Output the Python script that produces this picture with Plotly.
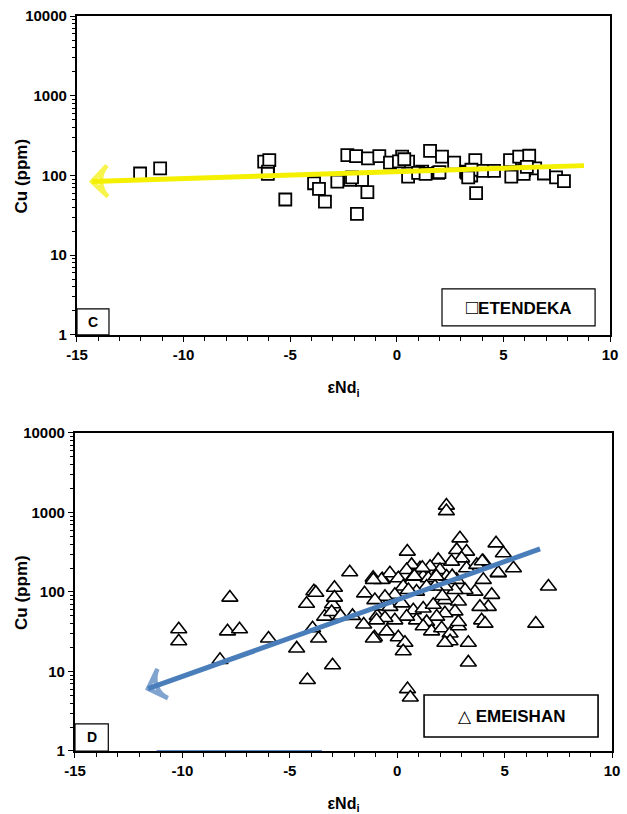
import plotly.graph_objects as go
from plotly.subplots import make_subplots

# ---- Etendeka (panel C): eNd_i vs Cu (ppm) ----
end_et = [-12.04, -11.1, -6.22, -5.98, -6.04, -5.23, -3.88, -3.65, -3.37, -2.79,
          -2.32, -1.91, -2.19, -1.63, -1.87, -1.38, -1.35, -0.82, -0.32, 0.25,
          0.53, 0.53, 1.19, 1.56, 1.94, 2.12, 2.69, 3.25, 3.49, 3.68,
          3.72, 4.05, 4.56, 5.37, 5.31, 5.74, 6.21, 5.97, 6.49, 6.9,
          7.47, 7.84, 0.1, 0.35, 1.0, 1.35, 2.0, 3.3, 3.5, 3.35,
          5.95, 6.1, -6.05, -2.1]
cu_et = [106, 123, 149, 156, 112, 50, 80, 68, 47, 84,
         180, 175, 88, 88, 33, 62, 164, 175, 145, 172,
         149, 97, 112, 204, 108, 172, 145, 112, 100, 156,
         60, 114, 114, 97, 156, 172, 177, 117, 123, 106,
         95, 85, 150, 160, 108, 105, 110, 108, 118, 95,
         105, 128, 105, 95]

# ---- Emeishan (panel D): eNd_i vs Cu (ppm) ----
end_em = [-10.17, -10.17, -7.79, -7.9, -7.34, -8.25, -5.99, -4.68, -4.22, -4.18,
          -3.88, -3.79, -3.94, -3.66, -3.38, -3.01, -2.92, -3.01, -2.92, -3.05,
          -2.64, -2.21, -2.08, -1.52, -1.56, -1.12, -1.06, -0.93, -0.69, -0.69,
          0.47, 2.92, 4.6, 4.94, 5.41, 4.71, 4.01, 4.01, 4.4, 4.24,
          3.85, 3.93, 4.09, 3.31, 3.31, 2.77, 3.23, 3.0, 2.53, 1.91,
          1.53, 1.06, 0.67, 0.44, -0.34, -0.73, -1.11, 0.05, 0.28, 0.75,
          1.21, 1.45, 1.99, 2.3, 2.77, 3.23, 3.7, 3.62, 3.16, 2.69,
          2.22, 1.76, 1.37, 0.9, 0.52, -0.11, -0.57, -1.04, -0.34, 0.21,
          0.75, 1.21, 1.68, 2.22, 2.85, 2.69, 2.22, 1.84, 1.37, 0.9,
          0.44, -0.11, -0.57, -0.96, -1.11, -0.49, 0.05, 0.36, 0.28, 1.21,
          1.6, 2.07, 2.46, 2.85, 2.46, 2.22, 2.85, 0.48, 0.61, 2.29,
          2.29, 7.04, 6.45, 4.7, 3.96, 1.82, 1.17, 0.8, 2.56, 2.1]
cu_em = [34, 24, 85, 32, 34, 14, 26, 19.5, 71, 7.8,
         102, 98, 35, 26, 49, 12, 113, 70, 85, 56,
         50, 177, 50, 96, 39, 151, 27, 50, 144, 66,
         322, 473, 409, 307, 199, 172, 241, 142, 92, 65,
         65, 44, 40, 23, 13, 338, 322, 265, 241, 253,
         208, 199, 219, 189, 172, 142, 142, 149, 117, 156,
         156, 149, 189, 156, 142, 199, 219, 101, 106, 106,
         117, 117, 117, 101, 106, 92, 87, 79, 65, 72,
         59, 62, 69, 79, 76, 57, 54, 49, 42, 44,
         49, 44, 47, 44, 26, 32, 27, 23, 18, 37,
         32, 35, 30, 37, 24, 23, 42, 6.0, 4.7, 1220,
         1040, 117, 40, 174, 244, 158, 201, 158, 158, 89]

# Trend arrows (tail -> head)
trend_et_x = [8.78, -14.3]
trend_et_y = [133, 84]
trend_em_x = [6.65, -11.6]
trend_em_y = [348, 6.07]

x_ticks = [-15, -10, -5, 0, 5, 10]
x_ticktext = ["-15", "-10", "-5", "0", "5", "10"]
y_ticks = [1, 10, 100, 1000, 10000]
y_ticktext = ["1", "10", "100", "1000", "10000"]

FONT = "Liberation Sans, Arial, sans-serif"

fig = make_subplots(rows=2, cols=1)

fig.add_trace(go.Scatter(
    x=end_et, y=cu_et, mode="markers",
    marker=dict(symbol="square", size=12, color="white",
                line=dict(color="black", width=1.8)),
    showlegend=False), row=1, col=1)

fig.add_trace(go.Scatter(
    x=end_em, y=cu_em, mode="markers",
    marker=dict(symbol="triangle-up", size=14, color="white",
                line=dict(color="black", width=1.6)),
    showlegend=False), row=2, col=1)

# trend lines with open arrowheads at the far end
fig.add_trace(go.Scatter(
    x=trend_et_x, y=trend_et_y, mode="lines+markers",
    line=dict(color="#f4f000", width=5),
    marker=dict(symbol=["circle", "arrow-wide-open"], size=[0, 22],
                angleref="previous", color="#f4f000",
                line=dict(color="#f4f000", width=4.5)),
    showlegend=False), row=1, col=1)

fig.add_trace(go.Scatter(
    x=trend_em_x, y=trend_em_y, mode="lines+markers",
    line=dict(color="#4a7ebb", width=5),
    marker=dict(symbol=["circle", "arrow-wide-open"], size=[0, 22],
                angleref="previous", color="#4a7ebb",
                line=dict(color="#4a7ebb", width=4.5)),
    showlegend=False), row=2, col=1)

axis_common = dict(
    showgrid=False, zeroline=False, showline=True, linecolor="black",
    linewidth=2.2, mirror=True, ticks="outside", ticklen=5, tickwidth=1.2,
    tickcolor="black",
    tickfont=dict(family=FONT, size=15, color="black", weight="bold"),
    automargin=False,
)

title_font = dict(family=FONT, size=17, color="black", weight="bold")

panels = [(1, [0.1228, 0.9729], [0.5885, 0.9803]),
          (2, [0.1196, 0.9761], [0.0774, 0.4681])]
for r, dom_x, dom_y in panels:
    fig.update_xaxes(
        range=[-15, 10], tickvals=x_ticks, ticktext=x_ticktext, domain=dom_x,
        minor=dict(dtick=1, ticks="outside", ticklen=4, tickwidth=1,
                   tickcolor="black"),
        title=dict(text="εNd<sub>i</sub>", font=dict(family=FONT, size=16,
                   color="black", weight="bold"), standoff=20),
        **axis_common, row=r, col=1)
    fig.update_yaxes(
        type="log", range=[0, 4], tickvals=y_ticks, ticktext=y_ticktext,
        domain=dom_y,
        minor=dict(ticks="outside", ticklen=3, tickwidth=1, tickcolor="black",
                   dtick="D1"),
        **axis_common, row=r, col=1)
    # vertical axis title placed beside the tick labels
    fig.add_annotation(x=0.035, y=(dom_y[0] + dom_y[1]) / 2, xref="paper",
                       yref="paper", xanchor="center", yanchor="middle",
                       text="Cu (ppm)", textangle=-90,
                       showarrow=False, font=title_font)

# panel letters and legend boxes
box_line = dict(color="black", width=1.2)
fig.add_shape(type="rect", xref="x", yref="y", x0=-15, x1=-13.5, y0=1,
              y1=10 ** 0.326, line=box_line, fillcolor="white")
fig.add_annotation(x=-14.25, y=0.16, xref="x", yref="y", text="C",
                   showarrow=False,
                   font=dict(family=FONT, size=14, color="black", weight="bold"))
fig.add_shape(type="rect", xref="x", yref="y", x0=2.12, x1=9.3,
              y0=10 ** 0.113, y1=10 ** 0.577, line=box_line, fillcolor="white")
fig.add_annotation(x=5.71, y=0.345, xref="x", yref="y",
                   text="<span style='font-size:20px;font-weight:normal'>□</span>ETENDEKA",
                   showarrow=False,
                   font=dict(family=FONT, size=17, color="black", weight="bold"))

fig.add_shape(type="rect", xref="x2", yref="y2", x0=-15, x1=-13.45, y0=1,
              y1=10 ** 0.34, line=box_line, fillcolor="white")
fig.add_annotation(x=-14.22, y=0.17, xref="x2", yref="y2", text="D",
                   showarrow=False,
                   font=dict(family=FONT, size=14, color="black", weight="bold"))
fig.add_shape(type="rect", xref="x2", yref="y2", x0=1.25, x1=9.35,
              y0=10 ** 0.176, y1=10 ** 0.704, line=dict(color="black", width=1.6),
              fillcolor="white")
fig.add_annotation(x=5.3, y=0.44, xref="x2", yref="y2",
                   text="<span style='font-weight:normal'>△</span> EMEISHAN",
                   showarrow=False,
                   font=dict(family=FONT, size=17, color="black", weight="bold"))

# faint blue stroke along the lower axis of panel D
fig.add_shape(type="line", xref="x2", yref="y2", x0=-11.2, x1=-3.5,
              y0=1, y1=1, line=dict(color="#5b8ccc", width=2), layer="above")

fig.update_layout(
    width=627, height=814,
    margin=dict(l=0, r=0, t=0, b=0),
    paper_bgcolor="white", plot_bgcolor="white",
    showlegend=False,
)

fig.write_html("out.html")
